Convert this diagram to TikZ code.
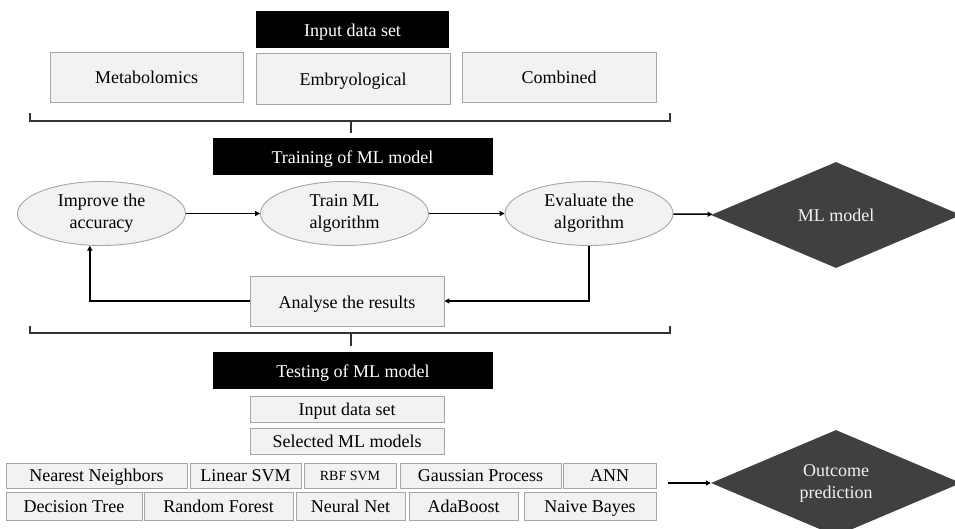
\documentclass[tikz,border=0pt]{standalone}
\usepackage{fontspec}
\setmainfont{Liberation Serif}
\usetikzlibrary{shapes.geometric,arrows.meta}
\definecolor{boxfill}{HTML}{F2F2F2}
\definecolor{boxline}{HTML}{A6A6A6}
\definecolor{dia}{HTML}{404040}
\begin{document}
\begin{tikzpicture}[x=1pt,y=-1pt,
 every node/.style={font=\fontsize{18}{22}\selectfont, inner sep=0pt},
 header/.style={fill=black, text=white, minimum height=37, minimum width=280, text height=16pt, text depth=2pt},
 gbox/.style={draw=boxline, fill=boxfill, line width=0.9pt, text height=16pt, text depth=2pt},
 sbox/.style={gbox, text height=15pt, text depth=3pt},
 oval/.style={ellipse, draw=boxline, fill=boxfill, line width=0.9pt, minimum width=168, minimum height=64, align=center},
 dmd/.style={diamond, fill=dia, text=boxfill, minimum width=250, minimum height=106, aspect=2.4, align=center},
 arr/.style={line width=1.5pt, -{Triangle[length=5pt,width=5pt]}},
 brace/.style={draw=black!80, line width=1.2pt}]
\useasboundingbox (0,0) rectangle (955,529);

% input data set
\node[header, minimum width=193] (h1) at (352.5,30) {Input data set};
\node[gbox, minimum width=193, minimum height=50] (met) at (146.5,77) {Metabolomics};
\node[gbox, minimum width=194, minimum height=51] (emb) at (353,78.5) {Embryological};
\node[gbox, minimum width=194, minimum height=50] (com) at (559,77) {Combined};

% brace 1
\coordinate (b1l) at (30,113);
\coordinate (b1r) at (670,113);
\coordinate (b1m) at (351,121);
\draw[brace] (b1l) -- (30,121) -- (670,121) -- (b1r);
\draw[brace] (b1m) -- (351,133);

% training
\node[header] (h2) at (352.5,157) {Training of ML model};
\node[oval] (imp) at (101.5,213.5) {Improve the\\accuracy};
\node[oval] (trn) at (344.5,213.5) {Train ML\\algorithm};
\node[oval] (evl) at (589,213.5) {Evaluate the\\algorithm};
\node[dmd] (ml) at (836,215) {ML model};
\node[gbox, minimum width=194, minimum height=50] (an) at (347,301) {Analyse the results};

\draw[arr] (imp) -- (trn);
\draw[arr] (trn) -- (evl);
\draw[arr] (evl) -- (ml);
\draw[arr] (evl.south) |- (an.east);
\draw[arr] (an.west) -| (imp.-110);

% brace 2
\coordinate (b2l) at (30,326);
\coordinate (b2r) at (670,326);
\coordinate (b2m) at (351,333);
\draw[brace] (b2l) -- (30,333) -- (670,333) -- (b2r);
\draw[brace] (b2m) -- (351,346);

% testing
\node[header] (h3) at (353,370.5) {Testing of ML model};
\node[sbox, minimum width=194, minimum height=26] (in2) at (347,409) {Input data set};
\node[sbox, minimum width=194, minimum height=26] (sel) at (347,441) {Selected ML models};

\node[sbox, minimum width=181, minimum height=25] (nn) at (96.5,475.75) {Nearest Neighbors};
\node[sbox, minimum width=111, minimum height=25] (lsvm) at (245.5,475.75) {Linear SVM};
\node[sbox, minimum width=92, minimum height=25, font=\fontsize{14}{17}\selectfont, text height=12pt, text depth=3pt] (rbf) at (350,475.75) {RBF SVM};
\node[sbox, minimum width=161, minimum height=25] (gp) at (480.5,475.75) {Gaussian Process};
\node[sbox, minimum width=93, minimum height=25] (ann) at (609.5,475.75) {ANN};

\node[sbox, minimum width=136, minimum height=28] (dt) at (74,506) {Decision Tree};
\node[sbox, minimum width=149, minimum height=28] (rf) at (218.5,506) {Random Forest};
\node[sbox, minimum width=109, minimum height=28] (nnet) at (350.5,506) {Neural Net};
\node[sbox, minimum width=109, minimum height=28] (ada) at (463.5,506) {AdaBoost};
\node[sbox, minimum width=132, minimum height=28] (nb) at (590,506) {Naive Bayes};

\coordinate (os) at (668,483);
\node[dmd] (out) at (836,483) {Outcome\\prediction};
\draw[arr] (os) -- (out);
\end{tikzpicture}
\end{document}
